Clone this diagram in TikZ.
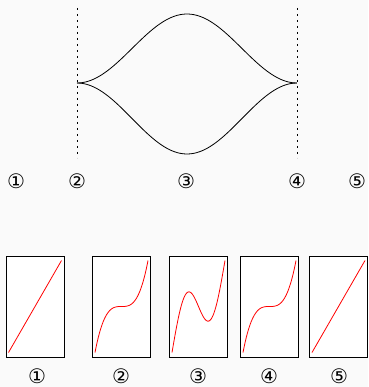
\documentclass[tikz,border=0pt]{standalone}
\usepackage{fontspec}
\usepackage{tikz}
\usetikzlibrary{positioning}
\newfontfamily\circfont{DejaVu Sans}
\definecolor{bggray}{RGB}{250,250,250}

\begin{document}
\begin{tikzpicture}[
  x=1pt, y=-1pt,
  guide/.style={draw=black, line width=0.7pt, dash pattern=on 2.5pt off 3.5pt},
  lobe/.style={draw=black, line width=0.8pt},
  panel/.style={rectangle, draw=black, line width=0.9pt, fill=white,
                minimum width=58pt, minimum height=101pt, inner sep=0pt},
  trace/.style={draw=red, line width=0.8pt},
  num/.style={font=\circfont\fontsize{20}{20}\selectfont, inner sep=0pt}
]
\fill[bggray] (0,0) rectangle (368,387);
\useasboundingbox (0,0) rectangle (368,387);

% top sketch
\coordinate (lft)  at (77,83);
\coordinate (rgt)  at (297,83);
\coordinate (g2a)  at (77,8);
\coordinate (g2b)  at (77,158);
\coordinate (g4a)  at (297,8);
\coordinate (g4b)  at (297,158);

\draw[guide] (g2a) -- (g2b);
\draw[guide] (g4a) -- (g4b);
\draw[lobe] plot[domain=0:1, samples=80, smooth] ({77+220*\x},{83-69*(sin(180*\x))^2});
\draw[lobe] plot[domain=0:1, samples=80, smooth] ({77+220*\x},{83+71*(sin(180*\x))^2});

\node[num] (t1) at (16,181)  {①};
\node[num] (t2) at (77,181)  {②};
\node[num] (t3) at (186,181) {③};
\node[num] (t4) at (297,181) {④};
\node[num] (t5) at (357,181) {⑤};

% bottom panels
\node[panel] (p1) at (35,306.5)    {};
\node[panel] (p2) at (121.5,306.5) {};
\node[panel] (p3) at (198.5,306.5) {};
\node[panel] (p4) at (269.5,306.5) {};
\node[panel] (p5) at (338.5,306.5) {};

\begin{scope}[shift={(p1.center)}]
  \draw[trace] plot[domain=-1:1, samples=2] ({26.5*\x},{-46*\x});
\end{scope}
\begin{scope}[shift={(p2.center)}]
  \draw[trace] plot[domain=-1:1, samples=80, smooth] ({26.5*\x},{-46*\x*\x*\x});
\end{scope}
\begin{scope}[shift={(p3.center)}]
  \draw[trace] plot[domain=-1:1, samples=80, smooth] ({26.5*\x},{-46*(\x-0.75*sin(180*\x))});
\end{scope}
\begin{scope}[shift={(p4.center)}]
  \draw[trace] plot[domain=-1:1, samples=80, smooth] ({26.5*\x},{-46*\x*\x*\x});
\end{scope}
\begin{scope}[shift={(p5.center)}]
  \draw[trace] plot[domain=-1:1, samples=2] ({26.5*\x},{-46*\x});
\end{scope}

\node[num] (b1) at (37,376)  {①};
\node[num] (b2) at (121,376) {②};
\node[num] (b3) at (198,376) {③};
\node[num] (b4) at (269,376) {④};
\node[num] (b5) at (339,376) {⑤};

\end{tikzpicture}
\end{document}
